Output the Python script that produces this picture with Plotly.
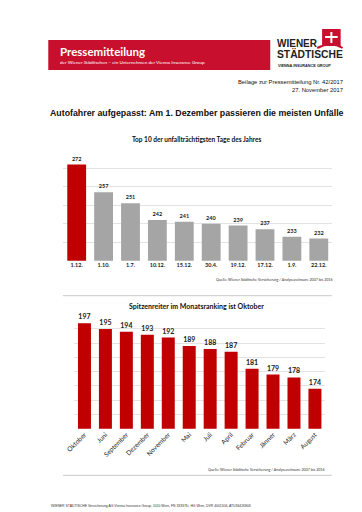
import plotly.graph_objects as go

W, H = 362, 512

# ---------- data ----------
days = ["1.12.", "1.10.", "1.7.", "10.12.", "15.12.", "30.4.", "19.12.", "17.12.", "1.9.", "22.12."]
day_values = [272, 257, 251, 242, 241, 240, 239, 237, 233, 232]
day_colors = ["#c00000"] + ["#a5a5a5"] * 9

months = ["Oktober", "Juni", "September", "Dezember", "November", "Mai", "Juli",
          "April", "Februar", "Jänner", "März", "August"]
month_values = [197, 195, 194, 193, 192, 189, 188, 187, 181, 179, 178, 174]

title_main = "Autofahrer aufgepasst: Am 1. Dezember passieren die meisten Unfälle"
title_c1 = "Top 10 der unfallträchtigsten Tage des Jahres"
title_c2 = "Spitzenreiter im Monatsranking ist Oktober"
source = "Quelle: Wiener Städtische Versicherung / Analysezeitraum: 2007 bis 2016"


def px(x):
    return x / W


def py(y):
    return 1 - y / H


CAL = "Lato, 'Open Sans', sans-serif"
ARIAL = "'Liberation Sans', Arial, sans-serif"

fig = go.Figure()

fig.add_trace(go.Bar(
    x=days, y=day_values, marker=dict(color=day_colors, line=dict(width=0)),
    text=[str(v) for v in day_values], textposition="outside", cliponaxis=False,
    textfont=dict(family=CAL, size=5.5, color="#222", weight="bold"), xaxis="x", yaxis="y",
    width=0.7, hoverinfo="x+y"))

fig.add_trace(go.Bar(
    x=months, y=month_values, marker=dict(color="#c00000", line=dict(width=0)),
    text=[str(v) for v in month_values], textposition="outside", cliponaxis=False,
    textfont=dict(family=CAL, size=7, color="#222", weight="bold"), xaxis="x2", yaxis="y2",
    width=0.62, hoverinfo="x+y"))

grid = "#e3e3e3"
fig.update_layout(
    width=W, height=H, autosize=False,
    margin=dict(l=0, r=0, t=0, b=0),
    paper_bgcolor="white", plot_bgcolor="white",
    showlegend=False,
    xaxis=dict(domain=[px(48.3), px(323.4)], anchor="y", showgrid=False, ticks="",
               tickfont=dict(family=CAL, size=5.5, color="#222", weight="bold"), showline=False,
               fixedrange=True),
    yaxis=dict(domain=[py(252.7), py(141.7)], anchor="x", range=[220, 280], dtick=10,
               showgrid=True, gridcolor=grid, gridwidth=1, showticklabels=False,
               zeroline=False, fixedrange=True),
    xaxis2=dict(domain=[px(59.3), px(316.4)], anchor="y2", showgrid=False, ticks="",
                tickangle=-45, tickfont=dict(family=CAL, size=6.5, color="#222"),
                showline=False, fixedrange=True),
    yaxis2=dict(domain=[py(420.7), py(306.7)], anchor="x2", range=[160, 200], dtick=5,
                showgrid=True, gridcolor=grid, gridwidth=1, showticklabels=False,
                zeroline=False, fixedrange=True),
    bargap=0.3,
)

shapes = []
# red header band
shapes.append(dict(type="rect", xref="paper", yref="paper", x0=px(33), x1=px(260),
                   y0=py(62), y1=py(32), fillcolor="#c8102e", line=dict(width=0), layer="below"))
# logo icon
shapes.append(dict(type="rect", xref="paper", yref="paper", x0=px(313), x1=px(332),
                   y0=py(38), y1=py(21), fillcolor="#c8102e", line=dict(width=0)))
shapes.append(dict(type="line", xref="paper", yref="paper", x0=px(322.5), x1=px(322.5),
                   y0=py(35), y1=py(24), line=dict(color="white", width=2)))
shapes.append(dict(type="line", xref="paper", yref="paper", x0=px(316), x1=px(329),
                   y0=py(29), y1=py(29), line=dict(color="white", width=2)))
shapes.append(dict(type="path", xref="paper", yref="paper",
                   path=f"M {px(308)} {py(40)} Q {px(322)} {py(33)} {px(334)} {py(40)}",
                   line=dict(color="#c8102e", width=2)))
# separator lines
for yy in (287.7, 467.3):
    shapes.append(dict(type="line", xref="paper", yref="paper", x0=px(48), x1=px(323),
                       y0=py(yy), y1=py(yy), line=dict(color="#c9c9c9", width=1)))
fig.update_layout(shapes=shapes)

ann = []


def text(t, x, y, size, family=ARIAL, color="#111", xanchor="left", bold=False):
    if bold:
        t = f"<b>{t}</b>"
    ann.append(dict(text=t, x=px(x), y=py(y), xref="paper", yref="paper", showarrow=False,
                    xanchor=xanchor, yanchor="middle", font=dict(family=family, size=size, color=color)))


text("Pressemitteilung", 43, 43.5, 11.5, family=CAL, color="white", bold=True)
text("der Wiener Städtischen – ein Unternehmen der Vienna Insurance Group", 43, 53.5, 4.6,
     family=CAL, color="white")
text("WIENER", 265, 35.5, 10, bold=True, color="#222")
text("STÄDTISCHE", 265, 46, 10.3, bold=True, color="#222")
text("VIENNA INSURANCE GROUP", 266, 57.5, 3.8, bold=True, color="#222")
text("Beilage zur Pressemitteilung Nr. 42/2017", 336, 74.3, 5.8, xanchor="right")
text("27. November 2017", 336, 81.7, 5.8, xanchor="right")
text(title_main, 185.5, 104.5, 8.8, bold=True, xanchor="center")
text(title_c1, 185, 131, 6.5, family=CAL, bold=True, xanchor="center")
text(source, 325, 271.7, 3.6, family=CAL, xanchor="right", color="#333")
text(title_c2, 185, 297.5, 7, family=CAL, bold=True, xanchor="center")
text(source, 317, 461, 3.6, family=CAL, xanchor="right", color="#333")
text("WIENER STÄDTISCHE Versicherung AG Vienna Insurance Group, 1010 Wien, FN 333376i, HG Wien, "
     "DVR 4001506, ATU36426808", 34, 498, 3.4, color="#333")

fig.update_layout(annotations=ann)

fig.write_html("out.html")
